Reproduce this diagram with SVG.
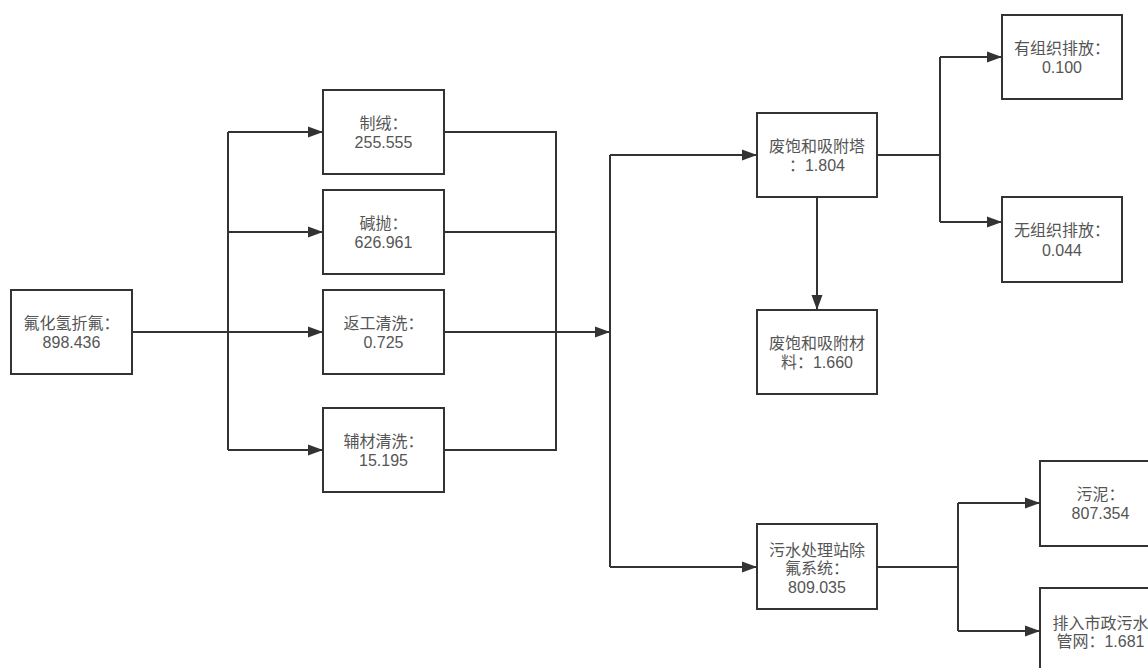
<svg xmlns="http://www.w3.org/2000/svg" width="1148" height="668" viewBox="0 0 1148 668">
<style>
.box{fill:#ffffff;stroke:#333333;stroke-width:2}
.ln{fill:none;stroke:#333333;stroke-width:2}
.arr{marker-end:url(#ah)}
text{font-family:"Liberation Sans","Noto Sans CJK SC",sans-serif;font-size:16px;fill:#555555;text-anchor:middle}
</style>
<defs>
<marker id="ah" markerUnits="userSpaceOnUse" markerWidth="15" markerHeight="12" refX="15" refY="6" orient="auto">
<path d="M0,0.5 L15,6 L0,11.5 Z" fill="#333333"/>
</marker>
</defs>
<rect width="1148" height="668" fill="#ffffff"/>
<g id="connectors">
<path class="ln" d="M228,132 V450"/>
<path class="ln arr" d="M132,332 H323"/>
<path class="ln arr" d="M228,132 H323"/>
<path class="ln arr" d="M228,232 H323"/>
<path class="ln arr" d="M228,450 H323"/>
<path class="ln" d="M444,132 H556 V450 H444"/>
<path class="ln" d="M444,232 H556"/>
<path class="ln arr" d="M444,332 H610"/>
<path class="ln" d="M610,155 V567"/>
<path class="ln arr" d="M610,155 H757"/>
<path class="ln arr" d="M610,567 H757"/>
<path class="ln arr" d="M817,197 V310"/>
<path class="ln" d="M877,155 H940 M940,57 V222"/>
<path class="ln arr" d="M940,57 H1002"/>
<path class="ln arr" d="M940,222 H1002"/>
<path class="ln" d="M877,567 H958 M958,503 V631"/>
<path class="ln arr" d="M958,503 H1040"/>
<path class="ln arr" d="M958,631 H1040"/>
</g>
<g id="source">
<rect class="box" x="11" y="290" width="121" height="84"/>
<text x="71.5" y="329">氟化氢折氟：</text>
<text x="71.5" y="348">898.436</text>
</g>
<g id="zhirong">
<rect class="box" x="323" y="90" width="121" height="84"/>
<text x="383.5" y="129">制绒：</text>
<text x="383.5" y="148">255.555</text>
</g>
<g id="jianpao">
<rect class="box" x="323" y="190" width="121" height="84"/>
<text x="383.5" y="229">碱抛：</text>
<text x="383.5" y="248">626.961</text>
</g>
<g id="fangong">
<rect class="box" x="323" y="290" width="121" height="84"/>
<text x="383.5" y="329">返工清洗：</text>
<text x="383.5" y="348">0.725</text>
</g>
<g id="fucai">
<rect class="box" x="323" y="408" width="121" height="84"/>
<text x="383.5" y="447">辅材清洗：</text>
<text x="383.5" y="466">15.195</text>
</g>
<g id="tower">
<rect class="box" x="757" y="113" width="120" height="84"/>
<text x="817" y="152">废饱和吸附塔</text>
<text x="817" y="171">：1.804</text>
</g>
<g id="material">
<rect class="box" x="757" y="310" width="120" height="84"/>
<text x="817" y="349">废饱和吸附材</text>
<text x="817" y="368">料：1.660</text>
</g>
<g id="organized">
<rect class="box" x="1002" y="15" width="120" height="84"/>
<text x="1062" y="54">有组织排放：</text>
<text x="1062" y="73">0.100</text>
</g>
<g id="unorganized">
<rect class="box" x="1002" y="197" width="120" height="85"/>
<text x="1062" y="236">无组织排放：</text>
<text x="1062" y="256">0.044</text>
</g>
<g id="wastewater">
<rect class="box" x="757" y="524" width="120" height="85"/>
<text x="817" y="556">污水处理站除</text>
<text x="817" y="574">氟系统：</text>
<text x="817" y="593">809.035</text>
</g>
<g id="sludge">
<rect class="box" x="1040" y="461" width="121" height="85"/>
<text x="1100.5" y="500">污泥：</text>
<text x="1100.5" y="519">807.354</text>
</g>
<g id="discharge">
<rect class="box" x="1040" y="588" width="121" height="84"/>
<text x="1100.5" y="629">排入市政污水</text>
<text x="1100.5" y="647">管网：1.681</text>
</g>
</svg>
